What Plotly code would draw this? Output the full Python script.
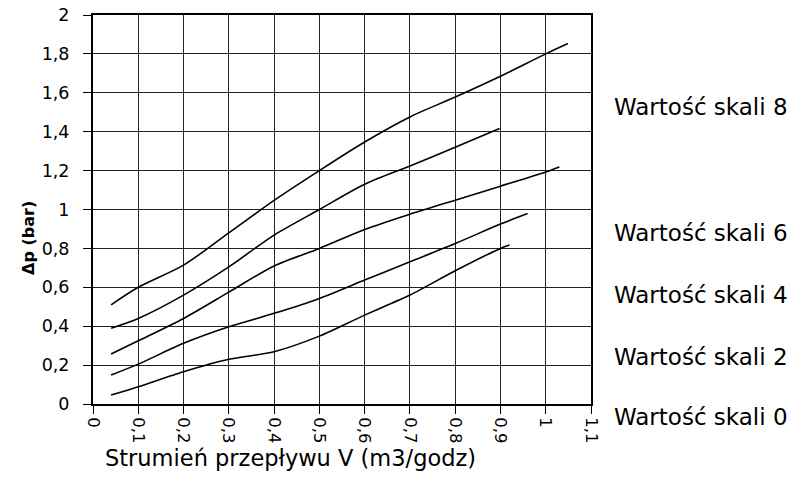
import plotly.graph_objects as go

# Data (flow V in m3/h vs pressure drop in bar)
x_s8 = [0.04, 0.1, 0.2, 0.3, 0.4, 0.5, 0.6, 0.7, 0.8, 0.9, 1.0, 1.049]
y_s8 = [0.51, 0.60, 0.714, 0.88, 1.047, 1.20, 1.347, 1.476, 1.578, 1.685, 1.80, 1.853]

x_s7 = [0.04, 0.1, 0.2, 0.3, 0.4, 0.5, 0.6, 0.7, 0.8, 0.898]
y_s7 = [0.39, 0.44, 0.56, 0.705, 0.868, 1.0, 1.130, 1.224, 1.32, 1.416]

x_s6 = [0.04, 0.1, 0.2, 0.3, 0.4, 0.5, 0.6, 0.7, 0.8, 0.9, 1.0, 1.03]
y_s6 = [0.257, 0.325, 0.44, 0.575, 0.71, 0.80, 0.897, 0.976, 1.048, 1.12, 1.193, 1.219]

x_s4 = [0.04, 0.1, 0.2, 0.3, 0.4, 0.5, 0.6, 0.7, 0.8, 0.9, 0.96]
y_s4 = [0.149, 0.205, 0.312, 0.397, 0.466, 0.543, 0.637, 0.731, 0.825, 0.925, 0.979]

x_s2 = [0.04, 0.1, 0.2, 0.3, 0.4, 0.5, 0.6, 0.7, 0.8, 0.9, 0.92]
y_s2 = [0.046, 0.089, 0.166, 0.23, 0.269, 0.349, 0.457, 0.56, 0.685, 0.80, 0.817]

x_tick_vals = [0, 0.1, 0.2, 0.3, 0.4, 0.5, 0.6, 0.7, 0.8, 0.9, 1.0, 1.1]
x_tick_text = ["0", "0,1", "0,2", "0,3", "0,4", "0,5", "0,6", "0,7", "0,8", "0,9", "1", "1,1"]
y_tick_vals = [0, 0.2, 0.4, 0.6, 0.8, 1.0, 1.2, 1.4, 1.6, 1.8, 2.0]
y_tick_text = ["0", "0,2", "0,4", "0,6", "0,8", "1", "1,2", "1,4", "1,6", "1,8", "2"]

scale_labels = ["Wartość skali 8", "Wartość skali 6", "Wartość skali 4",
                "Wartość skali 2", "Wartość skali 0"]
scale_label_pos = [0.763, 0.44, 0.28, 0.121, -0.033]

x_title = "Strumień przepływu V (m3/godz)"
y_title = "Δp (bar)"

FONT = "DejaVu Sans, Liberation Sans, Arial, sans-serif"

fig = go.Figure()
for xs, ys in [(x_s8, y_s8), (x_s7, y_s7), (x_s6, y_s6), (x_s4, y_s4), (x_s2, y_s2)]:
    fig.add_trace(go.Scatter(x=xs, y=ys, mode="lines",
                             line=dict(color="black", width=1.6, shape="spline", smoothing=0.8),
                             showlegend=False, hoverinfo="skip"))

for txt, yp in zip(scale_labels, scale_label_pos):
    fig.add_annotation(text=txt, xref="paper", yref="paper", x=1.042, y=yp,
                       xanchor="left", yanchor="middle", showarrow=False,
                       font=dict(family=FONT, size=23, color="black"))

fig.add_annotation(text=x_title, xref="paper", yref="paper", x=0.02, y=-0.138,
                   xanchor="left", yanchor="middle", showarrow=False,
                   font=dict(family=FONT, size=22.5, color="black"))
fig.add_annotation(text="<b>" + y_title + "</b>", xref="paper", yref="paper",
                   x=-0.1285, y=0.427, xanchor="center", yanchor="middle", textangle=-90,
                   showarrow=False, font=dict(family=FONT, size=16, color="black"))

fig.update_xaxes(range=[0, 1.1], tickvals=x_tick_vals, ticktext=x_tick_text,
                 tickangle=90, ticks="outside", ticklen=8, tickcolor="black", tickwidth=1,
                 showgrid=True, gridcolor="#222222", gridwidth=1.2, automargin=False,
                 showline=True, linecolor="black", linewidth=2, mirror=True,
                 zeroline=False, tickfont=dict(family=FONT, size=16.5, color="black"))
fig.update_yaxes(range=[0, 2], tickvals=y_tick_vals, ticktext=y_tick_text,
                 ticks="outside", ticklen=8, tickcolor="black", tickwidth=1,
                 showgrid=True, gridcolor="#222222", gridwidth=1.2, automargin=False,
                 ticklabelstandoff=10,
                 showline=True, linecolor="black", linewidth=2, mirror=True,
                 zeroline=False, tickfont=dict(family=FONT, size=17.5, color="black"))

fig.update_layout(width=794, height=499,
                  margin=dict(l=93, r=203, t=15, b=95),
                  paper_bgcolor="white", plot_bgcolor="white",
                  font=dict(family=FONT, color="black"))

# Remove the browser's default body margin so the figure sits at the window's corner
fig.write_html("out.html", config={"displayModeBar": False},
               post_script="document.body.style.margin='0';document.body.style.overflow='hidden';")
